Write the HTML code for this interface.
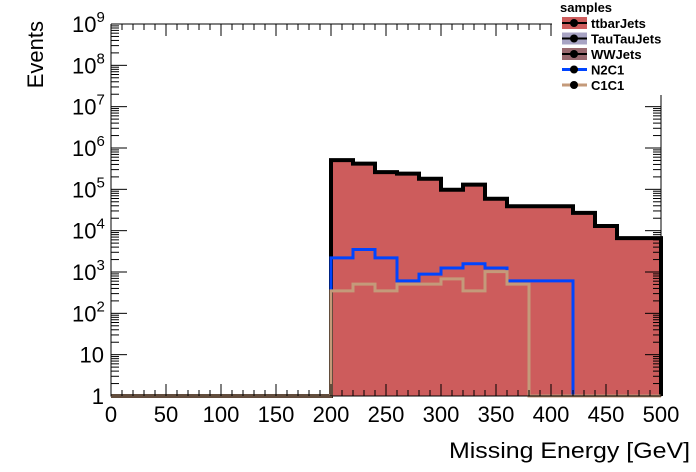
<!DOCTYPE html>
<html><head><meta charset="utf-8"><style>
body{margin:0;background:#fff}
svg{display:block;font-family:"Liberation Sans",Arial,sans-serif}
</style></head><body>
<svg id="c" width="696" height="472" viewBox="0 0 696 472"></svg>
<script>
const binEdges=[0,20,40,60,80,100,120,140,160,180,200,220,240,260,280,300,320,340,360,380,400,420,440,460,480,500];
const ttbar=[0,0,0,0,0,0,0,0,0,0,510000,420000,260000,240000,180000,98000,130000,59000,39000,39000,39000,27000,13000,6600,6600];
const n2c1=[0,0,0,0,0,0,0,0,0,0,2200,3500,2200,610,890,1250,1580,1250,610,610,610,0,0,0,0];
const c1c1=[0,0,0,0,0,0,0,0,0,0,350,510,350,510,510,680,350,1020,510,0,0,0,0,0,0];
const xTicks=[0,50,100,150,200,250,300,350,400,450,500];
const yDecades=[0,1,2,3,4,5,6,7,8,9];
const X0=111,X1=661,Y0=396,Y1=24;
const sx=v=>X0+(v-0)/(500-0)*(X1-X0);
const sy=v=>{const l=v<=1?0:Math.log10(v);return Y0-l/9*(Y0-Y1);};
const svg=document.getElementById('c');const NS='http://www.w3.org/2000/svg';
function mk(t,a,p){const e=document.createElementNS(NS,t);for(const k in a)e.setAttribute(k,a[k]);(p||svg).appendChild(e);return e;}
function stepPath(vals){let d='M'+sx(binEdges[0])+','+Y0;for(let i=0;i<vals.length;i++){d+=' L'+sx(binEdges[i])+','+sy(vals[i])+' L'+sx(binEdges[i+1])+','+sy(vals[i]);}d+=' L'+sx(binEdges[binEdges.length-1])+','+Y0;return d;}
let e;
e=mk('path',{d:stepPath(ttbar)+' Z',fill:'#cd5c5c',stroke:'none'});


e=mk('path',{d:stepPath(ttbar),fill:'none',stroke:'#000','stroke-width':4});


e=mk('path',{d:stepPath(n2c1),fill:'none',stroke:'#0044ff','stroke-width':3});


e=mk('path',{d:stepPath(c1c1),fill:'none',stroke:'#c49a7a','stroke-width':3});


e=mk('path',{d:`M${X0},${Y1} L${X0},${Y0} L${X1},${Y0} L${X1},${Y1} L${X0},${Y1}`,fill:'none',stroke:'#000','stroke-width':1});


for(let v=0;v<=500;v+=10){const x=sx(v);const L=v%50===0?12:6;mk('line',{x1:x,y1:Y0,x2:x,y2:Y0-L,stroke:'#000'});mk('line',{x1:x,y1:Y1,x2:x,y2:Y1+L,stroke:'#000'});}
xTicks.forEach(v=>{const t=mk('text',{x:sx(v),y:Y0+26,'text-anchor':'middle','font-size':22});t.textContent=v;

});
yDecades.forEach(d=>{const y=sy(Math.pow(10,d));mk('line',{x1:X0,y1:y,x2:X0+16,y2:y,stroke:'#000'});mk('line',{x1:X1,y1:y,x2:X1-16,y2:y,stroke:'#000'});
if(d<9)for(let k=2;k<10;k++){const yy=sy(k*Math.pow(10,d));mk('line',{x1:X0,y1:yy,x2:X0+8,y2:yy,stroke:'#000'});mk('line',{x1:X1,y1:yy,x2:X1-8,y2:yy,stroke:'#000'});}
let t;
if(d===0){t=mk('text',{x:104,y:y+8,'text-anchor':'end','font-size':22});t.textContent='1';}
else if(d===1){t=mk('text',{x:104,y:y+8,'text-anchor':'end','font-size':22});t.textContent='10';}
else{t=mk('text',{x:72,y:y+8,'font-size':22});t.textContent='10';const s=mk('tspan',{dy:-10,'font-size':15},t);s.textContent=d;}

});
e=mk('text',{x:449,y:458,'font-size':22,textLength:241,lengthAdjust:'spacingAndGlyphs'});e.textContent='Missing Energy [GeV]';


e=mk('text',{x:0,y:0,'text-anchor':'end','font-size':22,transform:'translate(43,21) rotate(-90)'});e.textContent='Events';


const lg=mk('g',{});


mk('rect',{x:552,y:0,width:144,height:95,fill:'#fff'},lg);
e=mk('text',{x:560,y:12,'font-size':13,'font-weight':'bold'},lg);e.textContent='samples';
const names=['ttbarJets','TauTauJets','WWJets','N2C1','C1C1'];
const cols=['#cd5c5c','#a8a4c4','#9a6a70',null,null];
const lcol=['#000','#000','#000','#0044ff','#c49a7a'];
names.forEach((n,i)=>{const y=23+i*15.5;
const g=mk('g',{},lg);


if(cols[i])mk('rect',{x:562,y:y-6,width:25,height:12,fill:cols[i]},g);
mk('line',{x1:562,y1:y,x2:587,y2:y,stroke:lcol[i],'stroke-width':cols[i]?2:3},g);
mk('circle',{cx:574,cy:y,r:4,fill:'#000'},g);
const t=mk('text',{x:591,y:y+5,'font-size':13,'font-weight':'bold'},g);t.textContent=n;});
</script>
</body></html>
